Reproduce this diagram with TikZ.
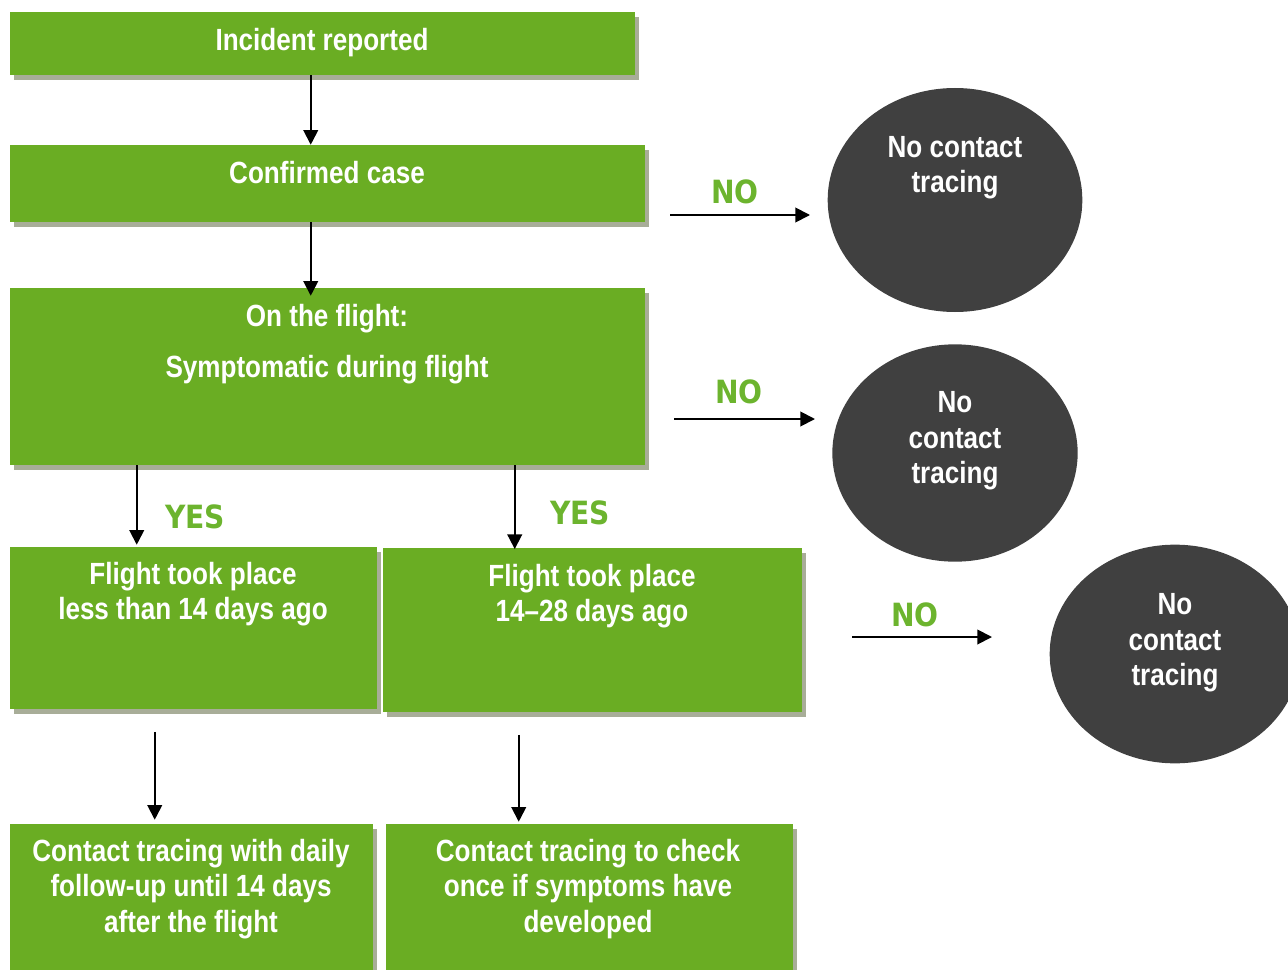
\documentclass[tikz,border=0pt]{standalone}
\usepackage{fontspec}
\setmainfont{Liberation Sans}[FakeStretch=0.85]
\newfontfamily\answerfont{DejaVu Sans}[FakeStretch=0.88]
\usetikzlibrary{arrows.meta,shapes.geometric,shadows,fit,calc}

\definecolor{boxgreen}{RGB}{106,173,35}
\definecolor{answergreen}{RGB}{108,180,46}
\definecolor{endgray}{RGB}{64,64,64}
\definecolor{shadowgray}{RGB}{168,173,152}

\tikzset{
  greenbox/.style={fill=boxgreen,inner sep=0pt,
    drop shadow={shadow xshift=3pt,shadow yshift=-3.5pt,fill=shadowgray,opacity=1}},
  endstate/.style={ellipse,fill=endgray,inner sep=0pt},
  boxtext/.style={text=white,align=center,font=\fontsize{23}{26.5}\selectfont\bfseries},
  answer/.style={text=answergreen,font=\answerfont\fontsize{24}{28}\selectfont\bfseries},
  flow/.style={->,line width=1.4pt}
}

\begin{document}
\begin{tikzpicture}[x=0.75pt,y=-0.75pt,>={Triangle[length=11pt,width=11pt]}]
\useasboundingbox (0,0) rectangle (1288,970);
% define the boxes of the flow
  \node[greenbox] 	(inc)    [fit={(10,12) (635,75)}]   	{};
  \node[greenbox] 	(conf)   [fit={(10,145) (645,222)}] 	{};
  \node[greenbox] 	(flight) [fit={(10,288) (645,465)}] 	{};
  \node[greenbox] 	(less)   [fit={(10,547) (377,709)}] 	{};
  \node[greenbox] 	(mid)    [fit={(383,548) (802,712)}] 	{};
  \node[greenbox] 	(daily)  [fit={(10,824) (373,980)}] 	{};
  \node[greenbox] 	(once)   [fit={(386,824) (793,980)}] 	{};

% define the texts in the boxes
  \node[boxtext] (inc-txt)    at (322,43)  {Incident reported};
  \node[boxtext] (conf-txt)   at (327,173) {Confirmed case};
  \node[boxtext] (flight-txt) at (327,344) {On the flight:\\[11.7pt]Symptomatic during flight};
  \node[boxtext] (less-txt)   at (193,594) {Flight took place\\less than 14 days ago};
  \node[boxtext] (mid-txt)    at (592,596) {Flight took place\\14--28 days ago};
  \node[boxtext] (daily-txt)  at (191,889) {Contact tracing with daily\\follow-up until 14 days\\after the flight};
  \node[boxtext] (once-txt)   at (588,889) {Contact tracing to check\\once if symptoms have\\developed};

% define the end states
  \node[endstate,minimum width=191pt,minimum height=168pt] (no1) at (955,200) {};
  \node[endstate,minimum width=184pt,minimum height=163pt] (no2) at (955,453) {};
  \node[endstate,minimum width=188pt,minimum height=164pt] (no3) at (1175,654) {};
  \node[boxtext] (no1-txt) at (955,168) {No contact\\tracing};
  \node[boxtext] (no2-txt) at (955,441) {No\\contact\\tracing};
  \node[boxtext] (no3-txt) at (1175,643) {No\\contact\\tracing};

% define the links
  \draw[flow] ($(inc.south west)+(301,0)$) -- ($(conf.north west)+(301,0)$);
  \draw[flow,shorten >=-6pt] ($(conf.south west)+(301,0)$) -- ($(flight.north west)+(301,0)$);
  \draw[flow,shorten >=1.5pt] ($(flight.south west)+(127,0)$) -- ($(less.north west)+(127,0)$);
  \draw[flow,shorten >=-1pt] ($(flight.south west)+(505,0)$) -- ($(mid.north west)+(132,0)$);
  \draw[flow,shorten <=17pt,shorten >=3pt] ($(less.south west)+(145,0)$) -- ($(daily.north west)+(145,0)$);
  \draw[flow,shorten <=17pt,shorten >=1.5pt] ($(mid.south west)+(136,0)$) -- ($(once.north west)+(133,0)$);
  \node[answer] (yes1) at (195,517) {YES};
  \node[answer] (yes2) at (580,513) {YES};

% the answers that end the flow
  \coordinate (no1-from) at (670,215);
  \coordinate (no1-to)   at (810,215);
  \coordinate (no2-from) at (674,419);
  \coordinate (no2-to)   at (815,419);
  \coordinate (no3-from) at (852,637);
  \coordinate (no3-to)   at (992,637);
  \draw[flow] (no1-from) -- (no1-to);
  \draw[flow] (no2-from) -- (no2-to);
  \draw[flow] (no3-from) -- (no3-to);
  \node[answer] (no1-lbl) at (735,192) {NO};
  \node[answer] (no2-lbl) at (739,392) {NO};
  \node[answer] (no3-lbl) at (915,615) {NO};
\end{tikzpicture}
\end{document}
